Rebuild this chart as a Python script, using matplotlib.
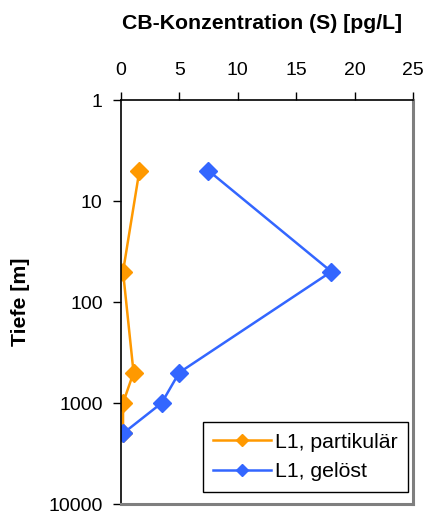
import matplotlib.pyplot as plt
from matplotlib.ticker import FixedLocator, FixedFormatter, NullLocator

plt.rcParams['font.family'] = ['Liberation Sans', 'DejaVu Sans']

tiefe_part = [5, 50, 500, 1000, 2000]
konz_part = [1.6, 0.2, 1.1, 0.2, 0.2]
tiefe_gel = [5, 50, 500, 1000, 2000]
konz_gel = [7.5, 18.0, 5.0, 3.5, 0.2]
yticks = [1, 10, 100, 1000, 10000]
ylabels = ['1', '10', '100', '1000', '10000']

fig = plt.figure(figsize=(4.26, 5.13), dpi=100)
ax = fig.add_axes([0.2833, 0.0175, 0.6867, 0.7875])

ax.plot(konz_part, tiefe_part, '-D', color='#FF9900', lw=1.8, markersize=9.5, label='L1, partikulär')
ax.plot(konz_gel, tiefe_gel, '-D', color='#3366FF', lw=1.8, markersize=9.5, label='L1, gelöst')

ax.set_yscale('log')
ax.set_ylim(10000, 1)
ax.set_xlim(0, 25)
ax.yaxis.set_major_locator(FixedLocator(yticks))
ax.yaxis.set_major_formatter(FixedFormatter(ylabels))
ax.yaxis.set_minor_locator(NullLocator())
ax.set_xticks([0, 5, 10, 15, 20, 25])

ax.xaxis.tick_top()
ax.xaxis.set_label_position('top')
ax.tick_params(axis='both', direction='out', labelsize=14, length=6, width=1, pad=7)
ax.tick_params(axis='x', pad=9)
ax.set_xlabel('CB-Konzentration (S) [pg/L]', fontsize=15.3, fontweight='bold')
ax.set_ylabel('Tiefe [m]', fontsize=15.3, fontweight='bold')
ax.xaxis.label.set_va('center')
ax.xaxis.set_label_coords(0.483, 1.189)
ax.yaxis.label.set_va('center')
ax.yaxis.set_label_coords(-0.344, 0.5)

for s in ['left', 'top']:
    ax.spines[s].set_linewidth(1.2)
for s in ['right', 'bottom']:
    ax.spines[s].set_linewidth(2.2)
    ax.spines[s].set_color('#7f7f7f')

leg = ax.legend(loc='lower right', bbox_to_anchor=(0.983, 0.03), fontsize=15.3,
                frameon=True, fancybox=False, edgecolor='black', framealpha=1,
                handlelength=2.7, handletextpad=0.2, borderaxespad=0,
                borderpad=0.5, labelspacing=0.5, markerscale=0.68)
leg.get_frame().set_linewidth(1)

fig.savefig('out.png', dpi=100)
